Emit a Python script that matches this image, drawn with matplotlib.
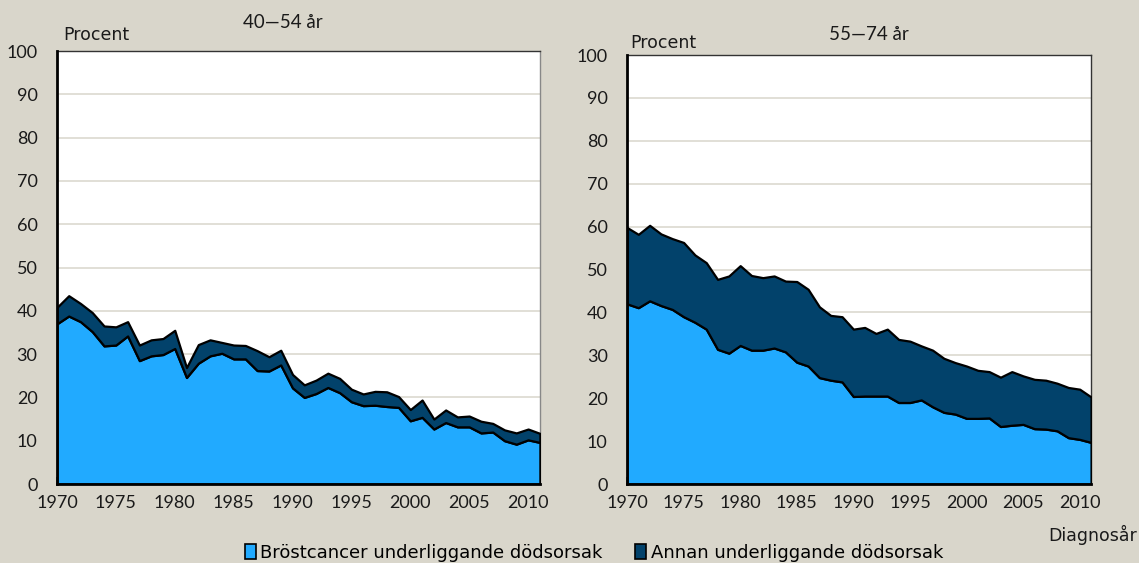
import matplotlib
matplotlib.use("Agg")
import matplotlib.pyplot as plt
from matplotlib.patches import Patch

years = list(range(1970, 2012))

# 40-54 år
young_breast = [37.0, 38.8, 37.5, 35.2, 31.9, 32.1, 34.2, 28.5, 29.6, 29.9,
                31.3, 24.6, 27.9, 29.6, 30.2, 28.9, 28.9, 26.2, 26.1, 27.5,
                22.2, 20.0, 20.9, 22.3, 21.1, 19.0, 18.1, 18.2, 17.9, 17.7,
                14.6, 15.4, 12.7, 14.2, 13.2, 13.2, 11.8, 12.0, 10.0, 9.2, 10.2, 9.6]
young_other = [3.8, 4.7, 4.2, 4.4, 4.6, 4.2, 3.3, 3.6, 3.7, 3.7,
               4.2, 2.3, 4.3, 3.7, 2.5, 3.2, 3.1, 4.6, 3.3, 3.4,
               3.1, 2.9, 3.1, 3.3, 3.3, 2.9, 2.7, 3.2, 3.4, 2.5,
               2.6, 4.0, 2.3, 2.9, 2.3, 2.5, 2.7, 2.0, 2.5, 2.6, 2.5, 2.1]

# 55-74 år
old_breast = [42.0, 41.1, 42.7, 41.6, 40.7, 39.0, 37.7, 36.1, 31.4, 30.5,
              32.3, 31.2, 31.2, 31.7, 30.8, 28.4, 27.5, 24.8, 24.2, 23.8,
              20.4, 20.5, 20.5, 20.5, 19.0, 19.0, 19.6, 18.0, 16.7, 16.3,
              15.3, 15.3, 15.4, 13.4, 13.7, 13.9, 12.9, 12.8, 12.4, 10.8, 10.4, 9.7]
old_other = [17.8, 17.1, 17.6, 16.7, 16.5, 17.3, 15.7, 15.5, 16.3, 18.0,
             18.6, 17.4, 16.9, 16.8, 16.5, 18.8, 17.9, 16.5, 15.1, 15.2,
             15.7, 16.0, 14.6, 15.6, 14.7, 14.3, 12.6, 13.2, 12.6, 12.0,
             12.2, 11.2, 10.8, 11.5, 12.5, 11.3, 11.5, 11.4, 11.1, 11.7, 11.7, 10.6]

titles = ["40\u201454 år", "55\u201474 år"]
series_labels = ["Bröstcancer underliggande dödsorsak", "Annan underliggande dödsorsak"]
y_ticks = list(range(0, 101, 10))
x_ticks = list(range(1970, 2011, 5))

c_breast = "#21AAFF"
c_other = "#02426B"
bg = "#D9D6CB"
grid_c = "#DCD9D0"
txt = "#1a1a1a"

plt.rcParams['font.family'] = ['Lato', 'DejaVu Sans']
wide = ['DejaVu Sans']

fig = plt.figure(figsize=(11.39, 5.63), dpi=100, facecolor=bg)

ax1 = fig.add_axes([0.050, 0.1403, 0.424, 0.769])
ax2 = fig.add_axes([0.5505, 0.1403, 0.4074, 0.762])

for ax, b, o in [(ax1, young_breast, young_other),
                 (ax2, old_breast, old_other)]:
    ax.set_facecolor("white")
    ax.stackplot(years, b, o, colors=[c_breast, c_other],
                 edgecolor="black", linewidth=1.6, zorder=3)
    ax.set_xlim(1970, 2011)
    ax.set_ylim(0, 100)
    ax.set_yticks(y_ticks)
    ax.set_xticks(x_ticks)
    ax.yaxis.grid(True, color=grid_c, linewidth=1.2, zorder=0)
    ax.set_axisbelow(True)
    ax.tick_params(axis="y", length=0, labelsize=13, pad=14, colors=txt)
    ax.tick_params(axis="x", direction="in", length=5, width=1.2,
                   color="#2a4a66", labelsize=13, pad=8, labelcolor=txt)
    for s in ["left", "bottom"]:
        ax.spines[s].set_linewidth(2)
        ax.spines[s].set_color("black")
    for s in ["top", "right"]:
        ax.spines[s].set_linewidth(1)
        ax.spines[s].set_color("#333333")
    ax.spines["bottom"].set_zorder(5)
    ax.spines["left"].set_zorder(5)

ax1.spines["right"].set_color("#888888")

fig.text(63 / 1139, 1 - 35 / 563, "Procent", fontsize=12.5, va="center", ha="left", color=txt, family=wide)
fig.text(630 / 1139, 1 - 43 / 563, "Procent", fontsize=12.5, va="center", ha="left", color=txt, family=wide)
fig.text(283 / 1139, 1 - 22 / 563, titles[0], fontsize=13.5, va="center", ha="center", color=txt)
fig.text(869 / 1139, 1 - 35 / 563, titles[1], fontsize=13.5, va="center", ha="center", color=txt)
fig.text(1137 / 1139, 1 - 535 / 563, "Diagnosår", fontsize=12.5, va="center", ha="right", color=txt, family=wide)

handles = [Patch(facecolor=c_breast, edgecolor="black", linewidth=1.2),
           Patch(facecolor=c_other, edgecolor="black", linewidth=1.2)]
fig.legend(handles, series_labels, loc="center", bbox_to_anchor=(594 / 1139, 1 - 553 / 563),
           ncol=2, frameon=False, prop={'family': wide, 'size': 13},
           handlelength=0.6, handleheight=0.9,
           handletextpad=0.25, columnspacing=1.8, borderpad=0)

fig.savefig("out.png", dpi=100, facecolor=bg)
